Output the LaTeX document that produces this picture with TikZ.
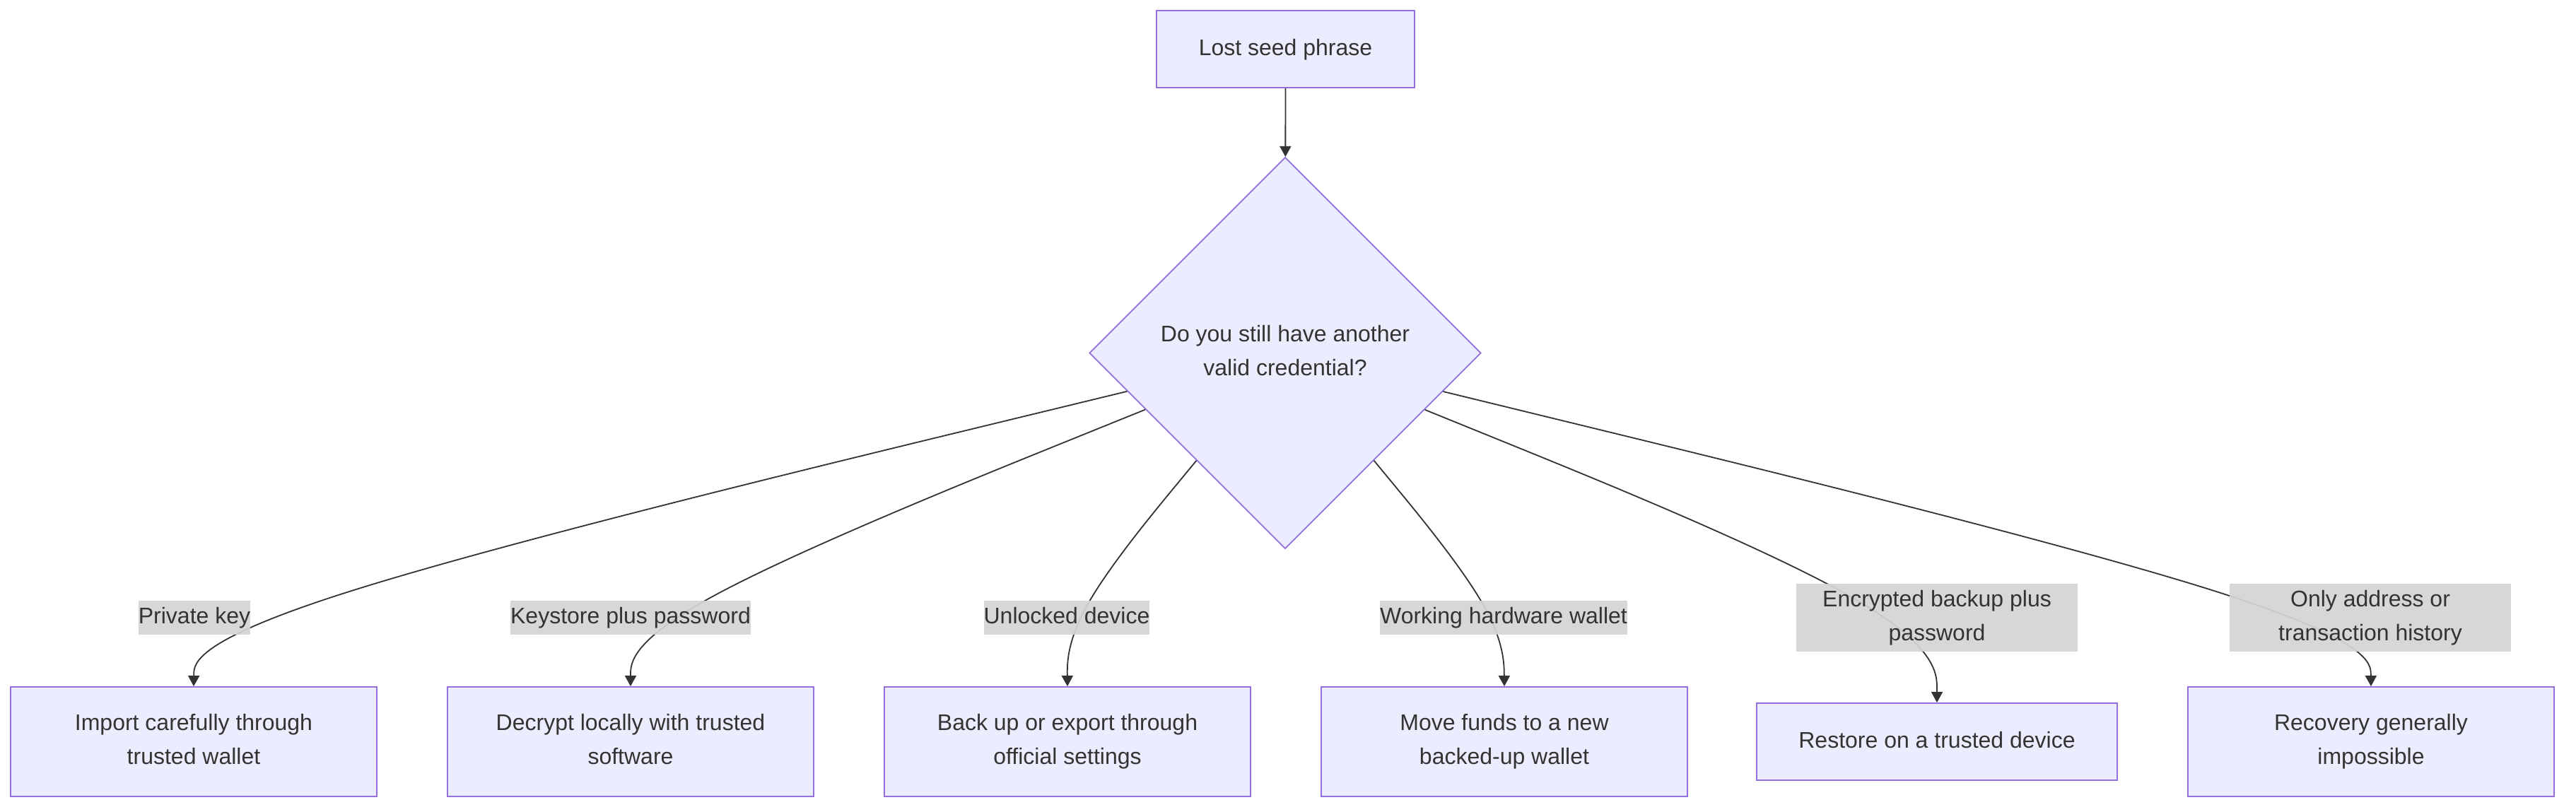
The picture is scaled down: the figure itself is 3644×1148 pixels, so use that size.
\documentclass[tikz,border=0pt]{standalone}
\usepackage{fontspec}
\setmainfont{Liberation Sans}
\usetikzlibrary{shapes.geometric,arrows.meta,calc}
\definecolor{mfill}{HTML}{ECECFF}
\definecolor{mstroke}{HTML}{9370DB}
\definecolor{mtext}{HTML}{333333}
\definecolor{lgray}{HTML}{D4D4D4}
\newcommand{\mstrut}{\rule[-3.39pt]{0pt}{15.29pt}}
\newcommand{\basisedge}[3]{%
  \path (#1) -- (#2) coordinate[pos=0] (tmpS);
  \draw[conn] (tmpS) -- ($(tmpS)!0.16667!(#2)$)
    .. controls ($(tmpS)!0.33333!(#2)$) and ($(tmpS)!0.66667!(#2)$)
    .. ($0.16667*(tmpS)+0.66667*(#2)+0.16667*(#3.north)$)
    .. controls ($(#2)!0.33333!(#3.north)$) and ($(#2)!0.66667!(#3.north)$)
    .. ($(#2)!0.83333!(#3.north)$) -- (#3.north);
}
\begin{document}
\begin{tikzpicture}[x=0.5pt,y=-0.5pt,
  every node/.style={font=\fontsize{16pt}{24pt}\selectfont, text=mtext},
  txt/.style={execute at begin node=\mstrut, execute at end node=\mstrut},
  box/.style={txt, draw=mstroke, fill=mfill, line width=0.9pt, minimum width=259pt, minimum height=77.5pt, inner sep=0pt, align=center},
  dec/.style={txt, draw=mstroke, fill=mfill, line width=0.9pt, shape=diamond, aspect=1, minimum width=277pt, minimum height=277pt, inner sep=0pt, align=center},
  lbl/.style={txt, fill=lgray, fill opacity=0.93, text opacity=1, inner sep=0pt, minimum height=24pt, align=center},
  lbltwo/.style={lbl, minimum height=48pt, minimum width=199pt},
  conn/.style={draw=mtext, line width=0.9pt, -{Triangle[length=7.5pt,width=8pt]}}
]
\useasboundingbox (0,0) rectangle (3644,1148);
\node[box, minimum width=182.5pt, minimum height=54.5pt] (top) at (1818.5,69.5) {Lost seed phrase};
\node[dec] (d) at (1818,499.5) {Do you still have another\\valid credential?};

\node[box] (b1) at (274,1049.5) {Import carefully through\\trusted wallet};
\node[box] (b2) at (892,1049.5) {Decrypt locally with trusted\\software};
\node[box] (b3) at (1510,1049.5) {Back up or export through\\official settings};
\node[box] (b4) at (2128,1049.5) {Move funds to a new\\backed-up wallet};
\node[box, minimum width=255pt, minimum height=54.5pt] (b5) at (2740,1049.5) {Restore on a trusted device};
\node[box] (b6) at (3354,1049.5) {Recovery generally\\impossible};

\coordinate (c1) at (275,874);
\coordinate (c2) at (892,874);
\coordinate (c3) at (1509,874);
\coordinate (c4) at (2127,874);
\coordinate (c5) at (2740,874);
\coordinate (c6) at (3353,874);

\draw[conn] (top) -- (d);
\basisedge{d}{c1}{b1}
\basisedge{d}{c2}{b2}
\basisedge{d}{c3}{b3}
\basisedge{d}{c4}{b4}
\basisedge{d}{c5}{b5}
\basisedge{d}{c6}{b6}

\node[lbl] (l1) at (c1) {Private key};
\node[lbl] (l2) at (c2) {Keystore plus password};
\node[lbl] (l3) at (c3) {Unlocked device};
\node[lbl] (l4) at (c4) {Working hardware wallet};
\node[lbltwo] (l5) at (c5) {Encrypted backup plus\\password};
\node[lbltwo] (l6) at (c6) {Only address or\\transaction history};
\end{tikzpicture}
\end{document}
